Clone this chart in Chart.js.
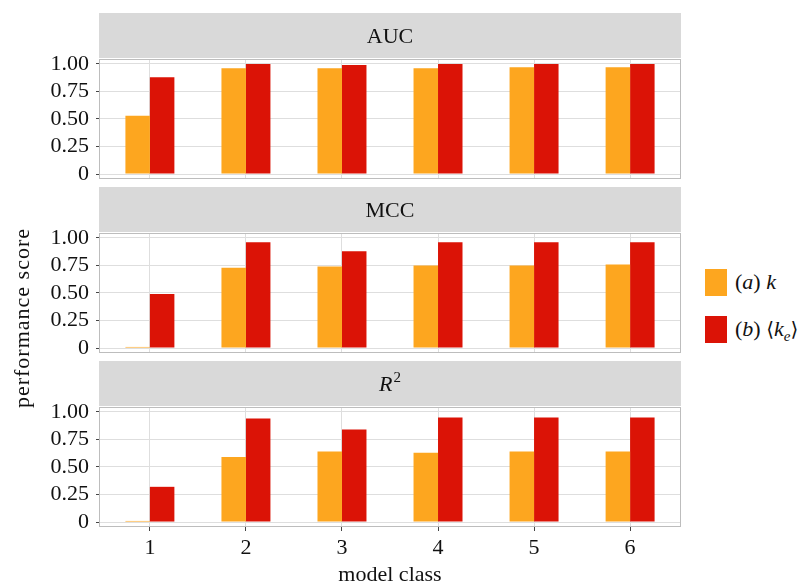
<!DOCTYPE html>
<html>
<head>
<meta charset="utf-8">
<script src="https://cdn.jsdelivr.net/npm/chart.js@4.4.1/dist/chart.umd.min.js"></script>
<style>
  html, body { margin: 0; padding: 0; background: #fff; }
  body { width: 802px; height: 585px; position: relative; overflow: hidden;
         font-family: "Liberation Serif", "DejaVu Serif", serif; color: #111; }
  .panel { position: absolute; left: 0; width: 690px; }
  #ytitle { position: absolute; left: -128px; top: 305px; width: 300px; height: 26px;
            line-height: 26px; font-size: 22px; letter-spacing: 1px; text-align: center; transform: rotate(-90deg); }
  .key { position: absolute; left: 705px; width: 22px; height: 27px; }
  .keytext { position: absolute; left: 735px; font-size: 22px; line-height: 26px; white-space: nowrap; }
  .keytext i { font-style: italic; }
  .keytext sub { font-size: 15px; vertical-align: -5px; line-height: 0; font-style: italic; }
  .ang { font-family: "DejaVu Serif", "Liberation Serif", serif; font-size: 20px; }
</style>
</head>
<body>
<canvas id="p0" class="panel" style="top:13px;height:167px" width="690" height="167"></canvas>
<canvas id="p1" class="panel" style="top:187px;height:167px" width="690" height="167"></canvas>
<canvas id="p2" class="panel" style="top:361px;height:227px" width="690" height="227"></canvas>
<div id="ytitle">performance score</div>
<div class="key" style="top:269px;background:#FDA61F"></div>
<div class="keytext" style="top:269px">(<i>a</i>) <i>k</i></div>
<div class="key" style="top:316px;background:#DB1306"></div>
<div class="keytext" style="top:316px">(<i>b</i>) <span class="ang">⟨</span><i>k</i><sub>e</sub><span class="ang">⟩</span></div>
<script>
// Model classes on the x axis
const modelClasses = [1, 2, 3, 4, 5, 6];

// Scores per metric: (a) k and (b) <k_e>
const aucK  = [0.53, 0.96, 0.96, 0.96, 0.97, 0.97];
const aucKe = [0.88, 1.00, 0.99, 1.00, 1.00, 1.00];
const mccK  = [0.01, 0.73, 0.74, 0.75, 0.75, 0.76];
const mccKe = [0.49, 0.96, 0.88, 0.96, 0.96, 0.96];
const r2K   = [0.01, 0.59, 0.64, 0.63, 0.64, 0.64];
const r2Ke  = [0.32, 0.94, 0.84, 0.95, 0.95, 0.95];

// Y tick values and their printed labels
const yTicks = [0, 0.25, 0.5, 0.75, 1];
const yTickLabels = ['0', '0.25', '0.50', '0.75', '1.00'];

const seriesNames = ['(a) k', '(b) ⟨kₑ⟩'];
const seriesColors = ['#FDA61F', '#DB1306'];

const FONT = '"Liberation Serif", "DejaVu Serif", serif';

// Pair each model class with its score
const toPoints = vals => modelClasses.map((c, i) => ({ x: c, y: vals[i] }));

// Facet strip: grey band above the plot area with the metric name
const stripPlugin = {
  id: 'strip',
  beforeDraw(chart, args, opts) {
    const { ctx, chartArea: a } = chart;
    ctx.save();
    ctx.fillStyle = '#d9d9d9';
    ctx.fillRect(a.left, 0, a.right - a.left, a.top - 1);
    const segs = opts.segments || [];
    const fontFor = s => (s.italic ? 'italic ' : '') + (s.sup ? '15px ' : '22px ') + FONT;
    let total = 0;
    segs.forEach(s => { ctx.font = fontFor(s); total += ctx.measureText(s.text).width + (s.sup ? 1 : 0); });
    let x = (a.left + a.right) / 2 - total / 2;
    const yMid = (a.top - 1) / 2 + 1;
    ctx.fillStyle = '#111';
    ctx.textBaseline = 'alphabetic';
    segs.forEach(s => {
      ctx.font = fontFor(s);
      if (s.sup) x += 1;
      ctx.fillText(s.text, x, s.sup ? yMid - 3 : yMid + 6);
      x += ctx.measureText(s.text).width;
    });
    ctx.restore();
  }
};

// Panel frame around the plot area
const framePlugin = {
  id: 'frame',
  afterDraw(chart) {
    const { ctx, chartArea: a } = chart;
    ctx.save();
    ctx.strokeStyle = '#bdbdbd';
    ctx.lineWidth = 1;
    ctx.strokeRect(Math.round(a.left) + 0.5, Math.round(a.top) + 0.5,
                   Math.round(a.right - a.left) - 1, Math.round(a.bottom - a.top) - 1);
    ctx.restore();
  }
};

function makePanel(id, title, kVals, keVals, isBottom) {
  const canvasH = isBottom ? 227 : 167;
  return new Chart(document.getElementById(id), {
    type: 'bar',
    data: {
      datasets: [
        { label: seriesNames[0], data: toPoints(kVals), backgroundColor: seriesColors[0], borderWidth: 0 },
        { label: seriesNames[1], data: toPoints(keVals), backgroundColor: seriesColors[1], borderWidth: 0 }
      ]
    },
    options: {
      responsive: false,
      animation: false,
      events: [],
      categoryPercentage: 0.51,
      barPercentage: 1.0,
      layout: { padding: { top: 46, right: 9, bottom: isBottom ? 0 : 1, left: 0 } },
      plugins: {
        legend: { display: false },
        tooltip: { enabled: false },
        strip: { segments: title }
      },
      scales: {
        x: {
          type: 'linear',
          min: 0.47,
          max: 6.53,
          offset: false,
          afterBuildTicks(scale) { scale.ticks = modelClasses.map(c => ({ value: c })); },
          grid: { offset: false, color: '#dedede', drawTicks: isBottom, tickLength: 4, tickColor: '#444' },
          border: { display: false },
          ticks: { display: isBottom, color: '#111', padding: 4, font: { family: FONT, size: 22 },
                   callback: v => String(v) },
          title: { display: isBottom, text: 'model class', color: '#111', padding: { top: 0, bottom: 0 },
                   font: { family: FONT, size: 22 } },
          afterFit(scale) {
            scale.height = isBottom ? canvasH - 46 - 120 : 0;
            scale.paddingLeft = 0;
            scale.paddingRight = 0;
          }
        },
        y: {
          min: -0.045,
          max: 1.045,
          afterBuildTicks(scale) { scale.ticks = yTicks.map(v => ({ value: v })); },
          afterFit(scale) {
            scale.width = 99;
            scale.paddingTop = 0;
            scale.paddingBottom = 0;
          },
          grid: { color: '#dedede', drawTicks: true, tickLength: 3, tickColor: '#444' },
          border: { display: false },
          ticks: {
            color: '#111', padding: 7, font: { family: FONT, size: 22 },
            callback: v => yTickLabels[yTicks.indexOf(v)]
          }
        }
      }
    },
    plugins: [stripPlugin, framePlugin]
  });
}

makePanel('p0', [{ text: 'AUC' }], aucK, aucKe, false);
makePanel('p1', [{ text: 'MCC' }], mccK, mccKe, false);
makePanel('p2', [{ text: 'R', italic: true }, { text: '2', sup: true }], r2K, r2Ke, true);
</script>
</body>
</html>
